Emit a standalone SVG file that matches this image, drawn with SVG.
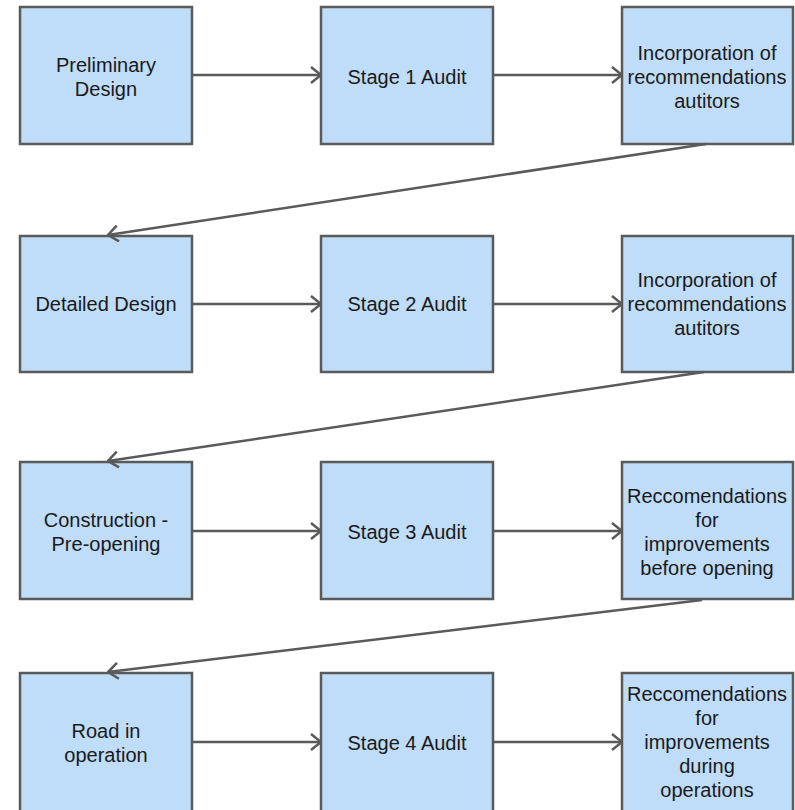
<svg xmlns="http://www.w3.org/2000/svg" width="795" height="810" viewBox="0 0 795 810">
<style>
.box{fill:#bfdcf9;stroke:#5a5a5a;stroke-width:2.5}
.t{font-family:"Liberation Sans",Arial,sans-serif;font-size:20px;fill:#1a1a1a;text-anchor:middle}
.c{stroke:#5a5a5a;stroke-width:2.5;fill:none}
</style>
<defs>
<marker id="ah" viewBox="0 0 12 18" refX="11" refY="9" markerWidth="12" markerHeight="18" markerUnits="userSpaceOnUse" orient="auto">
<path d="M1,1 L11,9 L1,17" fill="none" stroke="#5a5a5a" stroke-width="2.5"/>
</marker>
</defs>
<rect width="795" height="810" fill="#ffffff"/>
<g id="n1"><rect class="box" x="20" y="7" width="172" height="137"/><text class="t" x="106" y="72">Preliminary</text><text class="t" x="106" y="96">Design</text></g>
<g id="n2"><rect class="box" x="321" y="7" width="172" height="137"/><text class="t" x="407" y="84">Stage 1 Audit</text></g>
<g id="n3"><rect class="box" x="622" y="7" width="171" height="137"/><text class="t" x="707" y="60">Incorporation of</text><text class="t" x="707" y="84">recommendations</text><text class="t" x="707" y="108">autitors</text></g>
<g id="n4"><rect class="box" x="20" y="236" width="172" height="136"/><text class="t" x="106" y="311">Detailed Design</text></g>
<g id="n5"><rect class="box" x="321" y="236" width="172" height="136"/><text class="t" x="407" y="311">Stage 2 Audit</text></g>
<g id="n6"><rect class="box" x="622" y="236" width="171" height="136"/><text class="t" x="707" y="287">Incorporation of</text><text class="t" x="707" y="311">recommendations</text><text class="t" x="707" y="335">autitors</text></g>
<g id="n7"><rect class="box" x="20" y="462" width="172" height="137"/><text class="t" x="106" y="527">Construction -</text><text class="t" x="106" y="551">Pre-opening</text></g>
<g id="n8"><rect class="box" x="321" y="462" width="172" height="137"/><text class="t" x="407" y="539">Stage 3 Audit</text></g>
<g id="n9"><rect class="box" x="622" y="462" width="171" height="137"/><text class="t" x="707" y="503">Reccomendations</text><text class="t" x="707" y="527">for</text><text class="t" x="707" y="551">improvements</text><text class="t" x="707" y="575">before opening</text></g>
<g id="n10"><rect class="box" x="20" y="673" width="172" height="145"/><text class="t" x="106" y="738">Road in</text><text class="t" x="106" y="762">operation</text></g>
<g id="n11"><rect class="box" x="321" y="673" width="172" height="145"/><text class="t" x="407" y="750">Stage 4 Audit</text></g>
<g id="n12"><rect class="box" x="622" y="673" width="171" height="145"/><text class="t" x="707" y="701">Reccomendations</text><text class="t" x="707" y="725">for</text><text class="t" x="707" y="749">improvements</text><text class="t" x="707" y="773">during</text><text class="t" x="707" y="797">operations</text></g>
<g id="connectors">
<line class="c" x1="192" y1="75" x2="321" y2="75" marker-end="url(#ah)"/>
<line class="c" x1="493" y1="75" x2="622" y2="75" marker-end="url(#ah)"/>
<line class="c" x1="706" y1="144" x2="108" y2="235" marker-end="url(#ah)"/>
<line class="c" x1="192" y1="304" x2="321" y2="304" marker-end="url(#ah)"/>
<line class="c" x1="493" y1="304" x2="622" y2="304" marker-end="url(#ah)"/>
<line class="c" x1="704" y1="372" x2="108" y2="461" marker-end="url(#ah)"/>
<line class="c" x1="192" y1="531" x2="321" y2="531" marker-end="url(#ah)"/>
<line class="c" x1="493" y1="531" x2="622" y2="531" marker-end="url(#ah)"/>
<line class="c" x1="702" y1="600" x2="108" y2="672" marker-end="url(#ah)"/>
<line class="c" x1="192" y1="742" x2="321" y2="742" marker-end="url(#ah)"/>
<line class="c" x1="493" y1="742" x2="622" y2="742" marker-end="url(#ah)"/>
</g>
</svg>
